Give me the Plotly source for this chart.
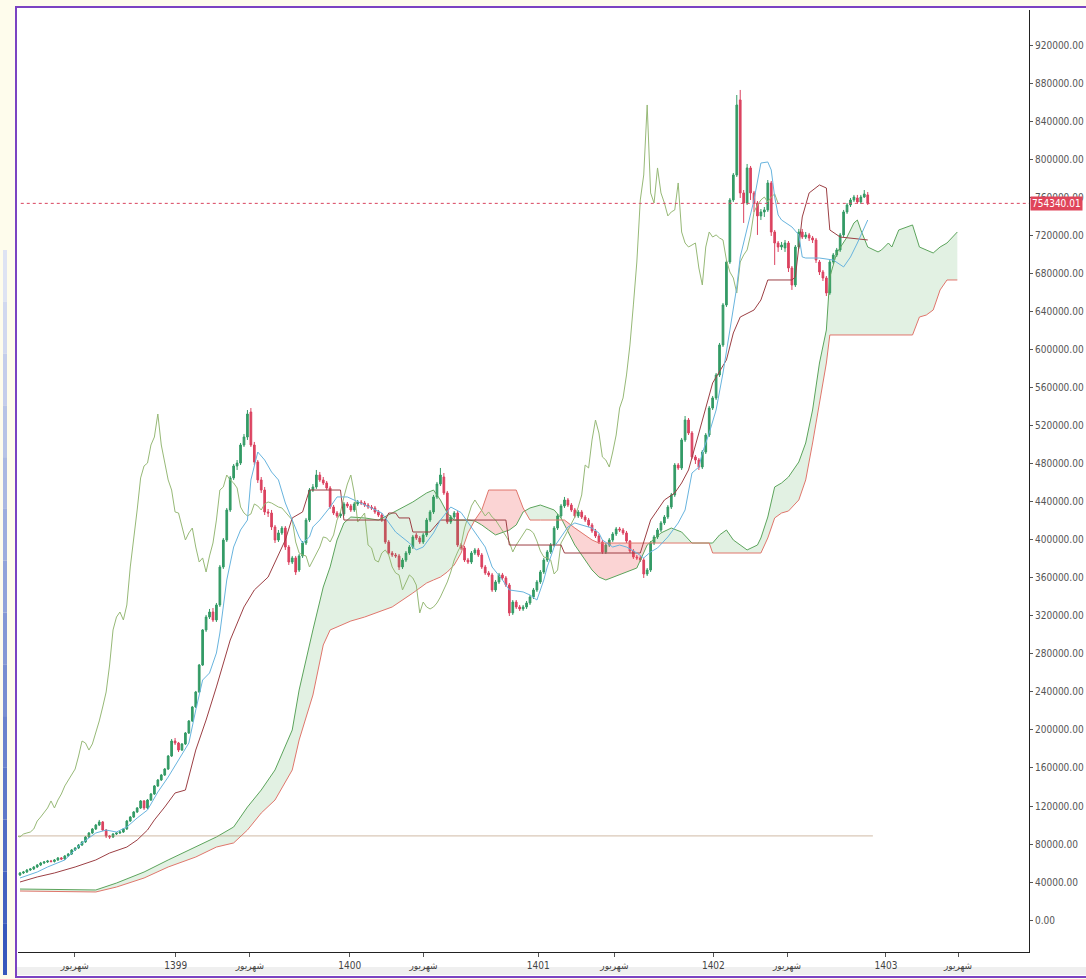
import plotly.graph_objects as go

# ---------------- data (values in thousands) ----------------
open_k = [
    47.4, 49.5, 50.5, 52.6, 53.7, 55.8, 57.9, 60.0, 61.1, 62.1,
    61.6, 63.2, 65.3, 64.2, 67.4, 69.5, 73.7, 75.8, 78.9, 82.1,
    87.4, 91.6, 95.8, 100.0, 103.2, 94.7, 88.4, 87.4, 90.5, 91.6,
    92.6, 95.8, 104.2, 108.4, 113.7, 117.9, 125.3, 117.9, 126.3, 132.6,
    141.1, 147.4, 152.6, 158.9, 172.6, 188.4, 186.3, 178.9, 185.3, 196.8,
    209.5, 224.2, 240.0, 268.4, 305.3, 318.9, 324.2, 315.8, 331.6, 371.6,
    400.0, 431.6, 465.3, 477.9, 481.0, 500.0, 508.4, 534.7, 500.0, 482.1,
    463.2, 452.6, 429.5, 428.4, 413.7, 400.0, 407.4, 412.6, 392.6, 376.8,
    381.1, 368.4, 383.2, 396.8, 421.0, 452.6, 455.8, 468.4, 463.2, 460.0,
    454.7, 434.7, 428.4, 425.3, 427.4, 437.9, 435.8, 431.6, 437.9, 440.0,
    438.9, 436.8, 434.7, 433.7, 429.5, 426.3, 421.0, 397.9, 386.3, 384.2,
    383.2, 371.6, 378.9, 386.3, 392.6, 405.3, 402.1, 397.9, 405.3, 421.0,
    429.5, 445.3, 458.9, 466.3, 449.5, 418.9, 424.2, 428.4, 394.7, 391.6,
    378.9, 376.8, 386.3, 389.5, 384.2, 371.6, 365.3, 363.2, 347.4, 355.8,
    363.2, 360.0, 352.6, 323.2, 334.7, 329.5, 327.4, 329.5, 333.7, 340.0,
    347.4, 355.8, 366.3, 378.9, 387.4, 394.7, 412.6, 425.3, 435.8, 442.1,
    436.8, 431.6, 425.3, 429.5, 424.2, 421.0, 415.8, 409.5, 404.2, 397.9,
    387.4, 394.7, 400.0, 406.3, 411.6, 410.5, 407.4, 398.9, 388.4, 382.1,
    381.1, 378.9, 364.2, 368.4, 396.8, 403.2, 410.5, 417.9, 424.2, 434.7,
    447.4, 478.9, 475.8, 505.3, 526.3, 512.6, 487.4, 484.2, 476.8, 492.6,
    510.5, 538.9, 549.5, 573.7, 605.3, 647.4, 692.6, 757.9, 784.2, 863.2,
    765.3, 754.7, 791.6, 765.3, 754.7, 741.1, 745.3, 747.4, 775.8, 724.2,
    712.6, 708.4, 707.4, 712.6, 686.3, 668.4, 708.4, 724.2, 718.9, 721.1,
    717.9, 715.8, 692.6, 682.1, 675.8, 660.0, 692.6, 700.0, 705.3, 721.1,
    745.3, 752.6, 757.9, 760.0, 755.8, 761.0, 763.2,
]
high_k = [
    50.5, 51.6, 53.7, 54.7, 56.8, 58.9, 61.1, 62.1, 63.2, 63.2,
    64.2, 66.3, 66.3, 68.4, 70.5, 74.7, 76.8, 80.0, 83.2, 88.4,
    92.6, 96.8, 101.1, 105.3, 104.2, 95.8, 89.5, 91.6, 92.6, 93.7,
    96.8, 105.3, 109.5, 114.7, 118.9, 126.3, 126.3, 127.4, 133.7, 142.1,
    148.4, 153.7, 160.0, 173.7, 190.5, 191.6, 187.4, 186.3, 197.9, 210.5,
    225.3, 241.1, 269.5, 306.3, 321.1, 327.4, 328.4, 333.7, 373.7, 402.1,
    433.7, 467.4, 480.0, 484.2, 502.1, 511.6, 536.8, 538.9, 503.2, 484.2,
    466.3, 455.8, 432.6, 431.6, 415.8, 410.5, 414.7, 414.7, 394.7, 383.2,
    383.2, 385.3, 398.9, 423.2, 454.7, 458.9, 473.7, 471.6, 466.3, 462.1,
    456.8, 436.8, 430.5, 429.5, 440.0, 440.0, 437.9, 440.0, 442.1, 442.1,
    441.1, 438.9, 436.8, 435.8, 431.6, 428.4, 423.2, 400.0, 388.4, 386.3,
    385.3, 381.1, 388.4, 394.7, 405.3, 407.4, 404.2, 407.4, 423.2, 431.6,
    447.4, 461.1, 475.8, 470.5, 451.6, 426.3, 430.5, 430.5, 396.8, 393.7,
    381.1, 388.4, 391.6, 391.6, 386.3, 373.7, 367.4, 365.3, 357.9, 365.3,
    365.3, 362.1, 354.7, 336.8, 336.8, 331.6, 331.6, 335.8, 342.1, 349.5,
    357.9, 368.4, 381.1, 389.5, 396.8, 414.7, 427.4, 437.9, 445.3, 444.2,
    438.9, 433.7, 431.6, 431.6, 426.3, 423.2, 417.9, 411.6, 406.3, 400.0,
    396.8, 402.1, 408.4, 413.7, 413.7, 412.6, 409.5, 400.0, 390.5, 384.2,
    383.2, 381.1, 370.5, 398.9, 405.3, 412.6, 420.0, 426.3, 436.8, 449.5,
    481.0, 481.0, 507.4, 530.5, 528.4, 514.7, 489.5, 486.3, 494.7, 512.6,
    541.1, 551.6, 575.8, 607.4, 649.5, 694.7, 760.0, 786.3, 868.4, 873.7,
    768.4, 795.8, 793.7, 767.4, 756.8, 748.4, 750.5, 778.9, 777.9, 726.3,
    714.7, 713.7, 715.8, 714.7, 688.4, 710.5, 727.4, 727.4, 724.2, 723.2,
    720.0, 717.9, 694.7, 684.2, 677.9, 694.7, 702.1, 707.4, 723.2, 747.4,
    754.7, 760.0, 763.2, 763.2, 763.2, 768.4, 766.3,
]
low_k = [
    46.3, 48.4, 49.5, 51.6, 52.6, 54.7, 56.8, 58.9, 60.0, 60.5,
    60.5, 62.1, 63.2, 63.2, 66.3, 68.4, 72.6, 74.7, 77.9, 81.1,
    86.3, 90.5, 94.7, 98.9, 93.7, 86.3, 85.3, 86.3, 89.5, 90.5,
    91.6, 94.7, 103.2, 107.4, 112.6, 116.8, 115.8, 116.8, 125.3, 131.6,
    140.0, 146.3, 151.6, 157.9, 171.6, 184.2, 176.8, 177.9, 184.2, 195.8,
    208.4, 223.2, 238.9, 267.4, 303.2, 316.8, 313.7, 313.7, 329.5, 369.5,
    397.9, 429.5, 463.2, 473.7, 478.9, 497.9, 505.3, 497.9, 478.9, 460.0,
    449.5, 426.3, 424.2, 410.5, 396.8, 397.9, 405.3, 389.5, 373.7, 374.7,
    363.2, 366.3, 381.1, 394.7, 418.9, 450.5, 453.7, 461.1, 457.9, 452.6,
    432.6, 426.3, 423.2, 423.2, 425.3, 433.7, 429.5, 429.5, 435.8, 436.8,
    434.7, 432.6, 431.6, 427.4, 424.2, 418.9, 395.8, 384.2, 382.1, 381.1,
    368.4, 369.5, 376.8, 384.2, 390.5, 400.0, 395.8, 395.8, 403.2, 418.9,
    427.4, 443.2, 456.8, 447.4, 416.8, 416.8, 422.1, 392.6, 389.5, 376.8,
    374.7, 374.7, 384.2, 382.1, 369.5, 363.2, 361.1, 345.3, 345.3, 353.7,
    357.9, 350.5, 320.0, 321.1, 327.4, 325.3, 325.3, 327.4, 331.6, 337.9,
    345.3, 353.7, 364.2, 376.8, 385.3, 392.6, 410.5, 423.2, 433.7, 434.7,
    429.5, 423.2, 423.2, 422.1, 418.9, 413.7, 407.4, 402.1, 395.8, 385.3,
    385.3, 392.6, 397.9, 404.2, 408.4, 405.3, 396.8, 386.3, 380.0, 378.9,
    376.8, 360.0, 362.1, 366.3, 394.7, 401.1, 408.4, 415.8, 422.1, 432.6,
    445.3, 473.7, 473.7, 503.2, 510.5, 485.3, 480.0, 473.7, 474.7, 490.5,
    508.4, 536.8, 547.4, 571.6, 603.2, 645.3, 690.5, 755.8, 782.1, 760.0,
    733.7, 752.6, 757.9, 745.3, 721.1, 736.8, 740.0, 745.3, 720.0, 689.5,
    703.2, 705.3, 703.2, 682.1, 663.2, 666.3, 706.3, 716.8, 716.8, 714.7,
    712.6, 691.6, 678.9, 672.6, 656.8, 657.9, 690.5, 697.9, 703.2, 718.9,
    743.2, 750.5, 755.8, 753.7, 753.7, 760.0, 752.6,
]
close_k = [
    49.5, 50.5, 52.6, 53.7, 55.8, 57.9, 60.0, 61.1, 62.1, 61.6,
    63.2, 65.3, 64.2, 67.4, 69.5, 73.7, 75.8, 78.9, 82.1, 87.4,
    91.6, 95.8, 100.0, 103.2, 94.7, 88.4, 87.4, 90.5, 91.6, 92.6,
    95.8, 104.2, 108.4, 113.7, 117.9, 125.3, 117.9, 126.3, 132.6, 141.1,
    147.4, 152.6, 158.9, 172.6, 188.4, 186.3, 178.9, 185.3, 196.8, 209.5,
    224.2, 240.0, 268.4, 305.3, 318.9, 324.2, 315.8, 331.6, 371.6, 400.0,
    431.6, 465.3, 477.9, 481.0, 500.0, 508.4, 532.6, 500.0, 482.1, 463.2,
    452.6, 429.5, 428.4, 413.7, 400.0, 407.4, 412.6, 392.6, 376.8, 381.1,
    366.3, 383.2, 396.8, 421.0, 452.6, 455.8, 468.4, 463.2, 460.0, 454.7,
    434.7, 428.4, 425.3, 427.4, 437.9, 435.8, 431.6, 437.9, 440.0, 438.9,
    436.8, 434.7, 433.7, 429.5, 426.3, 421.0, 397.9, 386.3, 384.2, 383.2,
    371.6, 378.9, 386.3, 392.6, 403.2, 402.1, 397.9, 405.3, 421.0, 429.5,
    445.3, 458.9, 468.4, 449.5, 418.9, 424.2, 428.4, 394.7, 391.6, 378.9,
    376.8, 386.3, 389.5, 384.2, 371.6, 365.3, 363.2, 347.4, 355.8, 363.2,
    360.0, 352.6, 323.2, 334.7, 329.5, 327.4, 329.5, 333.7, 340.0, 347.4,
    355.8, 366.3, 378.9, 387.4, 394.7, 412.6, 425.3, 435.8, 442.1, 436.8,
    431.6, 425.3, 429.5, 424.2, 421.0, 415.8, 409.5, 404.2, 397.9, 387.4,
    394.7, 400.0, 406.3, 411.6, 410.5, 407.4, 398.9, 388.4, 382.1, 381.1,
    378.9, 364.2, 368.4, 396.8, 403.2, 410.5, 417.9, 424.2, 434.7, 447.4,
    478.9, 475.8, 505.3, 526.3, 512.6, 487.4, 484.2, 476.8, 492.6, 510.5,
    538.9, 549.5, 573.7, 605.3, 647.4, 692.6, 757.9, 784.2, 857.9, 765.3,
    754.7, 791.6, 765.3, 754.7, 741.1, 745.3, 747.4, 775.8, 724.2, 712.6,
    708.4, 710.5, 712.6, 686.3, 668.4, 708.4, 724.2, 718.9, 721.1, 717.9,
    715.8, 694.7, 682.1, 675.8, 660.0, 692.6, 700.0, 705.3, 721.1, 745.3,
    752.6, 757.9, 761.0, 755.8, 761.0, 764.2, 754.34,
]

# Tenkan-sen (conversion line)
tenkan_idx = [0, 5, 8, 13, 18, 22, 25, 28, 31, 34, 37, 40, 43, 46, 49, 51, 53, 55, 57, 58,
              60, 62, 64, 66, 67, 69, 71, 73, 75, 77, 79, 81, 82, 84, 85, 87, 90, 92, 95, 99,
              102, 105, 107, 109, 113, 115, 117, 120, 122, 125, 128, 131, 133, 135, 137, 140, 142, 146, 148, 150,
              152, 153, 155, 157, 159, 161, 163, 166, 168, 169, 172, 174, 176, 179, 181, 183, 185, 188, 191, 193,
              195, 197, 198, 200, 202, 204, 206, 208, 209, 211, 213, 215, 217, 218, 219, 220, 221, 224, 226, 227,
              228, 232, 236, 239, 241, 243, 245, 246]
tenkan_k = [44.2, 50.5, 55.8, 63.2, 81.1, 91.6, 94.7, 92.6, 97.9, 107.4, 115.8, 134.7, 150.5, 168.4, 186.3, 221.0, 252.6, 260.0, 281.0, 302.1,
            357.9, 392.6, 410.5, 421.0, 463.2, 492.6, 484.2, 471.6, 463.2, 438.9, 421.0, 403.2, 396.8, 403.2, 413.7, 421.0, 434.7, 445.3, 445.3, 438.9,
            433.7, 428.4, 417.9, 408.4, 396.8, 389.5, 392.6, 407.4, 421.0, 434.7, 428.9, 413.7, 403.2, 392.6, 371.6, 357.9, 347.4, 345.3, 342.1, 336.8,
            357.9, 371.6, 392.6, 403.2, 413.7, 417.9, 415.8, 412.6, 407.4, 400.0, 392.6, 394.7, 392.6, 386.3, 381.1, 387.4, 391.6, 403.2, 417.9, 431.6,
            470.5, 476.8, 491.6, 512.6, 536.8, 575.8, 621.0, 666.3, 697.9, 726.3, 757.9, 796.8, 797.9, 789.5, 761.0, 742.1, 736.8, 729.5, 721.1, 697.9,
            696.8, 696.8, 694.7, 687.4, 697.9, 712.6, 729.5, 736.8]

# Kijun-sen (base line)
kijun_idx = [0, 5, 10, 16, 22, 26, 31, 34, 37, 39, 42, 45, 48, 51, 54, 57, 61, 65, 68, 72,
             77, 79, 82, 84, 93, 94, 106, 107, 109, 110, 113, 114, 119, 122, 141, 142, 157, 158, 180, 183,
             187, 190, 192, 194, 197, 201, 205, 207, 209, 213, 215, 217, 224, 225, 227, 229, 232, 234, 235, 238, 246]
kijun_k = [40.0, 45.3, 49.5, 55.8, 63.2, 70.5, 76.8, 84.2, 94.7, 105.3, 118.9, 133.7, 136.8, 178.9, 210.5, 245.3, 294.7, 329.5, 347.4, 361.0,
           400.0, 423.2, 429.5, 452.6, 452.6, 421.0, 421.0, 428.4, 428.4, 423.2, 423.2, 408.4, 408.4, 421.0, 421.0, 394.7, 394.7, 386.3, 386.3, 421.0,
           442.1, 449.5, 460.0, 473.7, 512.6, 565.3, 589.5, 617.9, 634.7, 642.1, 652.6, 673.7, 673.7, 676.8, 740.0, 765.3, 773.7, 770.5, 726.3, 718.9, 715.8]

# Senkou span A / B (cloud), already displaced forward
cloud_idx = [0, 22, 28, 36, 43, 51, 57, 62, 66, 70, 74, 79, 81, 85, 88, 90, 92, 94, 96, 100,
             104, 108, 114, 118, 120, 122, 124, 126, 128, 130, 132, 134, 136, 138, 142, 144, 146, 148, 151, 155,
             157, 158, 161, 166, 168, 170, 174, 179, 182, 186, 189, 192, 195, 200, 201, 203, 205, 207, 211, 214,
             215, 217, 219, 221, 223, 226, 228, 230, 232, 234, 235, 237, 240, 242, 243, 244, 246, 249, 250, 252,
             253, 255, 259, 261, 263, 265, 267, 269, 272]
senkou_a_k = [32.6, 31.6, 38.9, 50.5, 63.2, 76.8, 87.4, 97.9, 118.9, 136.8, 157.9, 200.0, 242.1, 305.3, 350.5, 371.6, 400.0, 417.9, 424.2, 423.2,
              421.0, 428.4, 440.0, 449.5, 452.6, 442.1, 428.4, 421.0, 421.0, 421.0, 420.0, 415.8, 410.5, 405.3, 410.5, 415.8, 429.5, 433.7, 436.8, 431.6,
              423.2, 415.8, 394.7, 368.4, 361.0, 357.9, 363.2, 370.5, 394.7, 407.4, 412.6, 408.4, 396.8, 396.8, 396.8, 405.3, 410.5, 400.0, 389.5, 394.7,
              402.1, 424.2, 455.8, 460.0, 466.3, 482.1, 502.1, 536.8, 586.3, 621.0, 676.8, 702.1, 718.9, 733.7, 736.8, 726.3, 708.4, 703.2, 705.3, 712.6,
              708.4, 726.3, 731.6, 708.4, 705.3, 702.1, 708.4, 712.6, 724.2]
senkou_b_k = [30.5, 29.5, 34.7, 44.2, 55.8, 66.3, 76.8, 81.1, 94.7, 112.6, 126.3, 157.9, 189.5, 236.8, 289.5, 305.3, 308.4, 311.6, 314.7, 318.9,
              324.2, 329.5, 344.2, 354.7, 357.9, 361.0, 366.3, 373.7, 386.3, 407.4, 421.0, 431.6, 452.6, 452.6, 452.6, 452.6, 433.7, 421.0, 421.0, 421.0,
              421.0, 421.0, 412.6, 400.0, 396.8, 396.8, 396.8, 396.8, 396.8, 396.8, 396.8, 396.8, 396.8, 396.8, 386.3, 386.3, 386.3, 386.3, 386.3, 386.3,
              386.3, 402.1, 423.2, 428.4, 430.5, 442.1, 463.2, 502.1, 544.2, 586.3, 615.8, 615.8, 615.8, 615.8, 615.8, 615.8, 615.8, 615.8, 615.8, 615.8,
              615.8, 615.8, 615.8, 634.7, 636.8, 642.1, 663.2, 673.7, 673.7]

chikou_shift = 26
support_level_k = 88.5
support_end_idx = 247.5
last_price = 754340.01

tick_pos = [15.9, 45.2, 66.7, 95.7, 117.1, 150.4, 172.5, 201.2, 222.6, 251.3, 272.2]
tick_text = ["شهریور", "1399", "شهریور", "1400", "شهریور", "1401", "شهریور", "1402", "شهریور", "1403", "شهریور"]
y_ticks = list(range(0, 920001, 40000))

# ---------------- build ----------------
K = 1000.0
o = [v * K for v in open_k]
h = [v * K for v in high_k]
l = [v * K for v in low_k]
c = [v * K for v in close_k]
idx = list(range(len(c)))
sa = [v * K for v in senkou_a_k]
sb = [v * K for v in senkou_b_k]

fig = go.Figure()


def cloud_polys(xs, a, b):
    polys = []
    sign = 1 if a[0] >= b[0] else -1
    cx, ca, cb = [xs[0]], [a[0]], [b[0]]
    for i in range(1, len(xs)):
        d0 = a[i - 1] - b[i - 1]
        d1 = a[i] - b[i]
        s1 = sign if d1 == 0 else (1 if d1 > 0 else -1)
        if s1 != sign:
            t = d0 / (d0 - d1) if d0 != d1 else 0.0
            xc = xs[i - 1] + t * (xs[i] - xs[i - 1])
            yc = a[i - 1] + t * (a[i] - a[i - 1])
            cx.append(xc); ca.append(yc); cb.append(yc)
            polys.append((cx, ca, cb, sign))
            cx, ca, cb = [xc], [yc], [yc]
            sign = s1
        cx.append(xs[i]); ca.append(a[i]); cb.append(b[i])
    polys.append((cx, ca, cb, sign))
    return polys


for px, pa, pb, s in cloud_polys(cloud_idx, sa, sb):
    fig.add_trace(go.Scatter(
        x=px + px[::-1], y=pa + pb[::-1], mode="lines", fill="toself",
        fillcolor="rgba(76,170,80,0.16)" if s > 0 else "rgba(240,90,90,0.26)",
        line=dict(width=0), hoverinfo="skip", showlegend=False))

fig.add_trace(go.Scatter(x=cloud_idx, y=sa, mode="lines",
                         line=dict(color="#5ca45c", width=1), hoverinfo="skip", showlegend=False))
fig.add_trace(go.Scatter(x=cloud_idx, y=sb, mode="lines",
                         line=dict(color="#e0766c", width=1), hoverinfo="skip", showlegend=False))

# support level
fig.add_trace(go.Scatter(x=[-1, support_end_idx], y=[support_level_k * K] * 2, mode="lines",
                         line=dict(color="rgba(175,140,105,0.6)", width=1), hoverinfo="skip", showlegend=False))

# chikou span (close displaced back)
fig.add_trace(go.Scatter(x=[i - chikou_shift for i in idx], y=c, mode="lines",
                         line=dict(color="#97b977", width=1), hoverinfo="skip", showlegend=False))
# kijun
fig.add_trace(go.Scatter(x=kijun_idx, y=[v * K for v in kijun_k], mode="lines",
                         line=dict(color="#9c3f44", width=1), hoverinfo="skip", showlegend=False))
# tenkan
fig.add_trace(go.Scatter(x=tenkan_idx, y=[v * K for v in tenkan_k], mode="lines",
                         line=dict(color="#68b4de", width=1), hoverinfo="skip", showlegend=False))

# candles
fig.add_trace(go.Candlestick(
    x=idx, open=o, high=h, low=l, close=c,
    increasing=dict(line=dict(color="#349b66", width=1), fillcolor="#349b66"),
    decreasing=dict(line=dict(color="#db4360", width=1), fillcolor="#db4360"),
    whiskerwidth=0, hoverinfo="skip", showlegend=False))

# last price line
fig.add_trace(go.Scatter(x=[-5, 300], y=[last_price, last_price], mode="lines",
                         line=dict(color="#d9445e", width=1, dash="dot"), hoverinfo="skip", showlegend=False))

# ---------------- layout ----------------
L, R, T, B = 18, 1029, 10, 952


def xp(px):
    return (px - L) / (R - L)


def yp(py):
    return (B - py) / (B - T)


shapes = [
    dict(type="rect", xref="paper", yref="paper", x0=xp(16), x1=xp(1100), y0=yp(977), y1=yp(7),
         fillcolor="white", line=dict(color="#7b43c2", width=2), layer="below"),
    dict(type="rect", xref="paper", yref="paper", x0=xp(17), x1=xp(1100), y0=yp(975), y1=yp(967),
         fillcolor="#efefef", line=dict(width=0), layer="below"),
]
nseg = 14
for k in range(nseg):
    y0 = 250 + k * (975 - 250) / nseg
    y1 = 250 + (k + 1) * (975 - 250) / nseg
    f = (k + 1) / nseg
    r = int(235 - 180 * f); g = int(238 - 150 * f); bb = int(248 - 60 * f)
    shapes.append(dict(type="rect", xref="paper", yref="paper", x0=xp(3), x1=xp(7), y0=yp(y1), y1=yp(y0),
                       fillcolor=f"rgb({r},{g},{bb})", line=dict(width=0), layer="below"))

tick_font = dict(family="Liberation Sans Narrow, DejaVu Sans Condensed, Liberation Sans, Arial", size=10, color="#555")

fig.update_layout(
    width=1086, height=979,
    margin=dict(l=L, r=1086 - R, t=T, b=979 - B, autoexpand=False),
    paper_bgcolor="#fefcec", plot_bgcolor="white",
    showlegend=False,
    shapes=shapes,
    xaxis=dict(range=[-0.58, 292.8], tickmode="array", tickvals=tick_pos, ticktext=tick_text,
               ticks="outside", ticklen=4, tickcolor="#555", showline=True, linecolor="#222", linewidth=1,
               showgrid=False, zeroline=False, rangeslider=dict(visible=False), automargin=False,
               tickfont=dict(family="DejaVu Sans Condensed, Liberation Sans Narrow, Arial", size=10, color="#444")),
    yaxis=dict(side="right", range=[-33684, 957866], tickmode="array", tickvals=y_ticks, tickformat=".2f",
               ticks="outside", ticklen=3, tickcolor="#555", showline=True, linecolor="#222", linewidth=1,
               showgrid=False, zeroline=False, automargin=False, tickfont=tick_font),
)

fig.add_annotation(x=1.0, xref="paper", xanchor="left", xshift=1, y=last_price, yref="y",
                   text="754340.01", showarrow=False, bgcolor="#e0455a", borderpad=1,
                   font=dict(family="Liberation Sans Narrow, DejaVu Sans Condensed, Arial", size=10, color="white"))

fig.write_html("out.html", config={"displayModeBar": False},
               post_script="document.body.style.margin='0';document.body.style.overflow='hidden';")
